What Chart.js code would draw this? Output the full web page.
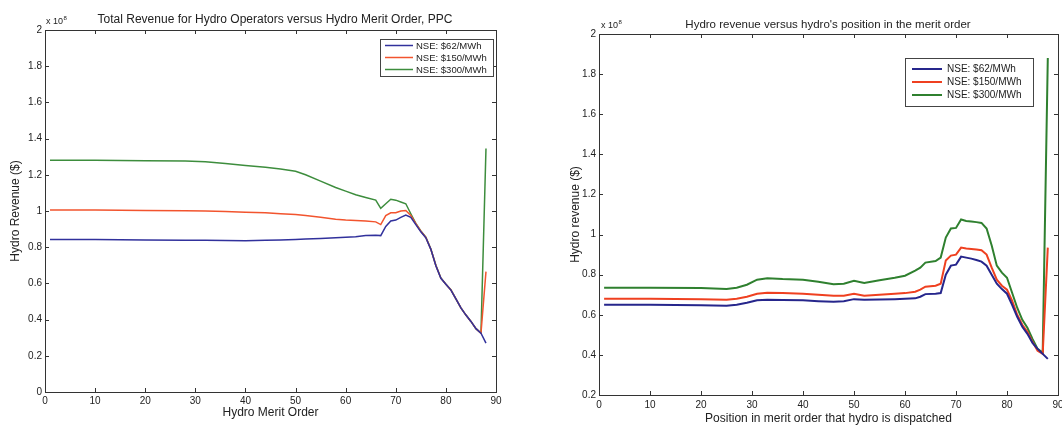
<!DOCTYPE html>
<html><head><meta charset="utf-8">
<script src="https://cdn.jsdelivr.net/npm/chart.js@4.4.0/dist/chart.umd.min.js"></script>
<style>
html,body{margin:0;padding:0;background:#fff;width:1062px;height:426px;overflow:hidden}
.wrap{position:absolute;top:0}
canvas{display:block}
</style></head><body>
<div class="wrap" style="left:0"><canvas id="c1" width="530" height="426"></canvas></div>
<div class="wrap" style="left:530px"><canvas id="c2" width="532" height="426"></canvas></div>
<script>
// ---------- DATA (values in units of 10^8 $) ----------
const seriesNames = ['NSE: $62/MWh', 'NSE: $150/MWh', 'NSE: $300/MWh'];

const xLeft = [1,10,20,28,32,36,40,44,47,50,52,55,58,60,62,64,66,67,68,69,70,71,72,73,74,75,76,77,78,79,80,81,82,83,84,85,86,87,88];
const blueLeft = [0.842,0.842,0.840,0.838,0.838,0.837,0.836,0.838,0.840,0.843,0.845,0.848,0.852,0.855,0.858,0.865,0.866,0.864,0.915,0.945,0.950,0.965,0.978,0.965,0.925,0.885,0.852,0.788,0.698,0.628,0.595,0.563,0.515,0.465,0.425,0.390,0.350,0.325,0.270];
const redLeft = [1.005,1.005,1.003,1.002,1.000,0.997,0.993,0.990,0.985,0.980,0.975,0.965,0.955,0.950,0.947,0.945,0.940,0.925,0.975,0.990,0.990,1.000,1.003,0.975,0.930,0.888,0.854,0.789,0.699,0.629,0.595,0.564,0.515,0.465,0.425,0.390,0.350,0.325,0.665];
const greenLeft = [1.280,1.280,1.278,1.276,1.272,1.262,1.252,1.242,1.232,1.220,1.200,1.165,1.130,1.110,1.090,1.075,1.060,1.015,1.040,1.065,1.060,1.050,1.040,0.985,0.932,0.890,0.855,0.790,0.700,0.630,0.595,0.565,0.515,0.465,0.425,0.390,0.350,0.325,1.345];

const xRight = [1,10,20,25,27,29,31,33,36,40,43,46,48,50,52,55,58,60,62,63,64,66,67,68,69,70,71,72,73,74,75,76,77,78,79,80,81,82,83,84,85,86,87,88];
const blueRight = [0.650,0.650,0.648,0.645,0.650,0.660,0.672,0.675,0.674,0.672,0.668,0.665,0.668,0.678,0.675,0.676,0.678,0.680,0.682,0.690,0.703,0.705,0.708,0.800,0.845,0.850,0.890,0.885,0.880,0.873,0.865,0.845,0.800,0.755,0.728,0.705,0.650,0.590,0.540,0.505,0.460,0.430,0.405,0.380];
const redRight = [0.680,0.680,0.678,0.675,0.680,0.690,0.705,0.710,0.708,0.705,0.700,0.695,0.695,0.705,0.695,0.700,0.705,0.708,0.715,0.725,0.740,0.745,0.755,0.870,0.895,0.900,0.935,0.930,0.928,0.925,0.922,0.900,0.835,0.775,0.745,0.725,0.670,0.600,0.550,0.515,0.465,0.420,0.405,0.935];
const greenRight = [0.735,0.735,0.733,0.728,0.735,0.750,0.775,0.782,0.778,0.775,0.765,0.752,0.755,0.770,0.758,0.772,0.785,0.795,0.820,0.835,0.860,0.868,0.885,0.985,1.030,1.033,1.075,1.068,1.065,1.062,1.058,1.030,0.945,0.845,0.810,0.785,0.710,0.635,0.575,0.535,0.480,0.430,0.410,1.880];

const xTickLabels = ['0','10','20','30','40','50','60','70','80','90'];
const yTickLabelsLeft = ['0','0.2','0.4','0.6','0.8','1','1.2','1.4','1.6','1.8','2'];
const yTickLabelsRight = ['0.2','0.4','0.6','0.8','1','1.2','1.4','1.6','1.8','2'];

// ---------- RENDERING ----------
const FONT = '"Liberation Sans", Arial, Helvetica, sans-serif';
const TXT = '#222';
const FRAME = '#333';

const matlabPlugin = {
  id: 'matlab',
  afterDraw(chart, args, o) {
    const {ctx, chartArea: a, scales} = chart;
    ctx.save();
    ctx.strokeStyle = FRAME; ctx.lineWidth = 1;
    ctx.strokeRect(Math.round(a.left)+0.5, Math.round(a.top)+0.5, Math.round(a.right-a.left), Math.round(a.bottom-a.top));
    const tl = 4;
    ctx.beginPath();
    scales.x.ticks.forEach(t => {
      const px = Math.round(scales.x.getPixelForValue(t.value)) + 0.5;
      ctx.moveTo(px, a.bottom); ctx.lineTo(px, a.bottom - tl);
      ctx.moveTo(px, a.top); ctx.lineTo(px, a.top + tl);
    });
    scales.y.ticks.forEach(t => {
      const py = Math.round(scales.y.getPixelForValue(t.value)) + 0.5;
      ctx.moveTo(a.left, py); ctx.lineTo(a.left + tl, py);
      ctx.moveTo(a.right, py); ctx.lineTo(a.right - tl, py);
    });
    ctx.stroke();
    ctx.fillStyle = TXT;
    ctx.font = o.titleSize + 'px ' + FONT;
    ctx.textAlign = 'center'; ctx.textBaseline = 'middle';
    ctx.fillText(o.title, o.titleX, o.titleY);
    ctx.textAlign = 'left';
    ctx.font = '9px ' + FONT;
    ctx.fillText('x 10', o.expX, o.expY);
    const w = ctx.measureText('x 10').width;
    ctx.font = '6px ' + FONT;
    ctx.fillText('8', o.expX + w + 0.5, o.expY - 4);
    const L = o.legend;
    ctx.fillStyle = '#fff';
    ctx.fillRect(L.x, L.y, L.w, L.h);
    ctx.strokeStyle = '#444'; ctx.lineWidth = 1;
    ctx.strokeRect(L.x + 0.5, L.y + 0.5, L.w, L.h);
    ctx.font = L.size + 'px ' + FONT;
    chart.data.datasets.forEach((ds, i) => {
      const yy = L.y + L.first + i * L.step;
      ctx.strokeStyle = ds.borderColor; ctx.lineWidth = ds.borderWidth;
      ctx.beginPath(); ctx.moveTo(L.x + L.lineX0, yy); ctx.lineTo(L.x + L.lineX1, yy); ctx.stroke();
      ctx.fillStyle = TXT; ctx.textBaseline = 'middle';
      ctx.fillText(ds.label, L.x + L.textX, yy + 0.5);
    });
    ctx.restore();
  }
};

function makeChart(id, xs, ys, colors, lw, cfg) {
  const datasets = ys.map((arr, i) => ({
    label: seriesNames[i],
    data: xs.map((x, j) => ({x: x, y: arr[j]})),
    borderColor: colors[i], backgroundColor: colors[i],
    borderWidth: lw, pointRadius: 0, tension: 0, fill: false
  }));
  return new Chart(document.getElementById(id), {
    type: 'line',
    data: {datasets},
    plugins: [matlabPlugin],
    options: {
      responsive: false, animation: false, devicePixelRatio: 1,
      layout: {padding: cfg.padding},
      plugins: {legend: {display: false}, tooltip: {enabled: false}, title: {display: false}, matlab: cfg.matlab},
      scales: {
        x: {
          type: 'linear', min: 0, max: 90,
          ticks: {stepSize: 10, padding: cfg.xTickPad, color: TXT, font: {family: FONT, size: 10},
                  maxRotation: 0, autoSkip: false, callback: (v, i) => xTickLabels[i]},
          grid: {display: false, drawTicks: false}, border: {display: false},
          title: {display: true, text: cfg.xTitle, color: TXT, font: {family: FONT, size: 12},
                  padding: {top: 0, bottom: cfg.xTitlePad}},
          afterFit: s => { s.height = cfg.xHeight; s.paddingLeft = 0; s.paddingRight = 0; }
        },
        y: {
          type: 'linear', min: cfg.yMin, max: 2,
          ticks: {stepSize: 0.2, padding: 3, color: TXT, font: {family: FONT, size: 10},
                  autoSkip: false, callback: (v, i) => cfg.yLabels[i]},
          grid: {display: false, drawTicks: false}, border: {display: false},
          title: {display: true, text: cfg.yTitle, color: TXT, font: {family: FONT, size: 12},
                  padding: {top: cfg.yTitlePad, bottom: 0}},
          afterFit: s => { s.width = cfg.yWidth; s.paddingTop = 0; s.paddingBottom = 0; }
        }
      }
    }
  });
}

makeChart('c1', xLeft, [blueLeft, redLeft, greenLeft], ['#31319c', '#f2542e', '#3d8d3d'], 1.5, {
  padding: {top: 30, right: 34, bottom: 0, left: 0},
  yWidth: 45, xHeight: 34, yMin: 0, yLabels: yTickLabelsLeft,
  xTitle: 'Hydro Merit Order', yTitle: 'Hydro Revenue ($)', xTitlePad: 6, yTitlePad: 8, xTickPad: 3,
  matlab: {title: 'Total Revenue for Hydro Operators versus Hydro Merit Order, PPC', titleSize: 12, titleX: 275, titleY: 20,
           expX: 46, expY: 22,
           legend: {x: 380, y: 39, w: 113, h: 37, size: 9.5, first: 6.5, step: 12, lineX0: 5, lineX1: 33, textX: 36}}
});

makeChart('c2', xRight, [blueRight, redRight, greenRight], ['#26268c', '#ef4020', '#2f802f'], 2, {
  padding: {top: 34, right: 4, bottom: 0, left: 0},
  yWidth: 69, xHeight: 31, yMin: 0.2, yLabels: yTickLabelsRight,
  xTitle: 'Position in merit order that hydro is dispatched', yTitle: 'Hydro revenue ($)', xTitlePad: 0, yTitlePad: 38, xTickPad: 4,
  matlab: {title: "Hydro revenue versus hydro's position in the merit order", titleSize: 11.5, titleX: 298, titleY: 25,
           expX: 71, expY: 26,
           legend: {x: 375, y: 58, w: 128, h: 48, size: 10, first: 11, step: 13, lineX0: 7, lineX1: 37, textX: 42}}
});
</script>
</body></html>
